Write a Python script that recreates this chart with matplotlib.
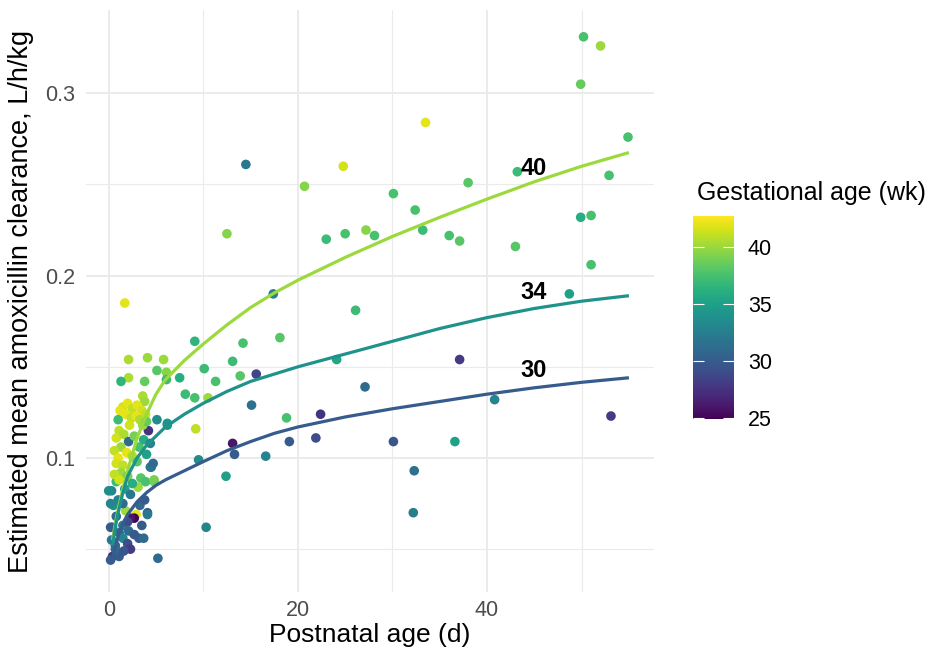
import matplotlib
matplotlib.use("Agg")
import matplotlib.pyplot as plt
from matplotlib.colors import Normalize
from matplotlib.cm import ScalarMappable

plt.rcParams['font.family'] = ['Liberation Sans', 'DejaVu Sans']

# observed individual estimates: postnatal age (d), clearance (L/h/kg), gestational age (wk)
pna = [50.2, 52.0, 49.9, 33.5, 54.9, 43.2, 38.0, 52.9, 49.9, 51.0,
       33.2, 36.0, 37.1, 43.0, 51.0, 48.7, 37.1, 40.8, 53.1, 30.1,
       32.4, 14.5, 24.8, 20.7, 12.5, 23.0, 25.0, 27.2, 28.1, 17.4,
       26.1, 9.1, 18.1, 14.2, 13.1, 10.1, 24.1, 15.6, 13.9, 11.3,
       27.1, 9.1, 10.5, 15.1, 18.8, 22.4, 9.2, 13.1, 19.1, 21.9,
       30.1, 36.6, 13.3, 16.6, 9.5, 32.3, 12.4, 32.2, 10.3, 5.2,
       7.5, 8.1, 6.2, 5.1, 1.7, 2.1, 4.1, 5.8, 5.1, 6.1,
       2.1, 1.3, 3.8, 6.1, 3.6, 3.8, 4.5, 4.8, 4.1, 6.2, 4.2,
       # dense cluster, first days of life
       1.5, 2.0, 2.5, 3.0, 3.5, 1.8, 2.4, 2.9, 3.3, 3.9, 1.2, 2.2, 3.6, 1.0, 4.0,
       1.1, 0.8, 1.6, 2.1, 2.7, 3.2, 3.7, 4.4, 1.3, 0.6, 1.9, 2.5, 1.0, 0.8, 1.5, 3.0, 4.0, 4.4, 4.7,
       0.3, 0.8, 3.1, 3.4, 3.9, 4.8, 1.3, 2.0, 2.5, 1.7, 2.3, 0.6, 1.1,
       0.5, 1.8, 2.9, 2.7, 2.3, 4.1, 1.0, 1.5, 3.3, 3.8, 0.4, 1.5, 0.8, 3.5, 2.0,
       1.1, 2.1, 3.2, 3.7, 1.5, 0.7, 2.0, 2.3, 0.4, 1.1, 0.7, 0.3, 2.7, 1.6, 0.2, 0.0, 0.2, 0.2]
cl = [0.331, 0.326, 0.305, 0.284, 0.276, 0.257, 0.251, 0.255, 0.232, 0.233,
      0.225, 0.222, 0.219, 0.216, 0.206, 0.190, 0.154, 0.132, 0.123, 0.245,
      0.236, 0.261, 0.260, 0.249, 0.223, 0.220, 0.223, 0.225, 0.222, 0.190,
      0.181, 0.164, 0.166, 0.163, 0.153, 0.149, 0.154, 0.146, 0.145, 0.142,
      0.139, 0.133, 0.133, 0.129, 0.122, 0.124, 0.116, 0.108, 0.109, 0.111,
      0.109, 0.109, 0.102, 0.101, 0.099, 0.093, 0.090, 0.070, 0.062, 0.045,
      0.144, 0.135, 0.119, 0.121, 0.185, 0.154, 0.155, 0.154, 0.148, 0.147,
      0.144, 0.142, 0.142, 0.143, 0.134, 0.131, 0.095, 0.087, 0.070, 0.118, 0.115,
      0.128, 0.130, 0.127, 0.129, 0.126, 0.124, 0.122, 0.123, 0.121, 0.124, 0.126, 0.118, 0.118, 0.121, 0.120,
      0.115, 0.111, 0.113, 0.109, 0.112, 0.106, 0.110, 0.108, 0.106, 0.104, 0.103, 0.101, 0.100, 0.097, 0.096, 0.098, 0.102, 0.095, 0.097,
      0.082, 0.087, 0.084, 0.089, 0.087, 0.088, 0.092, 0.090, 0.086, 0.083, 0.080, 0.091, 0.088,
      0.074, 0.071, 0.069, 0.067, 0.067, 0.069, 0.077, 0.075, 0.074, 0.077, 0.062, 0.063, 0.068, 0.063, 0.065,
      0.059, 0.060, 0.056, 0.056, 0.056, 0.052, 0.053, 0.050, 0.046, 0.046, 0.050, 0.055, 0.058, 0.049, 0.044, 0.082, 0.075, 0.062]
ga = [37.5, 40, 38.5, 42, 37.5, 37, 38, 37.5, 36, 37.5,
      37, 37.5, 38, 38, 37.5, 35, 28, 33, 28, 37.5,
      37.5, 32, 41.5, 39.5, 39.5, 37, 37.5, 39.5, 37.5, 32.5,
      37, 36.5, 38, 37.5, 37, 37, 35.5, 28.5, 38, 37.5,
      31, 37.5, 40, 31.5, 37.5, 27.5, 41, 26, 30, 29,
      29.5, 35, 30, 33, 33.5, 31.5, 35, 32.5, 33, 31,
      36, 37, 34.5, 33.5, 42, 40.5, 40, 40, 38, 39.5,
      40.5, 36.5, 38.5, 37, 40.5, 40, 31, 39, 30, 34, 27.5,
      41.5, 42, 41, 42, 41.5, 42, 41, 42, 40.5, 41, 42, 41.5, 40, 37, 38.5,
      41, 41.5, 40.5, 31, 39, 37.5, 36, 33, 40, 41, 42, 40.5, 42, 41.5, 41, 38, 35, 32, 31,
      33, 37, 40, 38, 37.5, 39, 40, 39, 36, 35, 32, 41, 41.5,
      34, 40, 42, 25, 26, 32, 33, 31, 31, 30, 30, 32, 31, 30, 29,
      31, 31, 30, 31, 33, 31, 29, 28, 28, 30, 31, 32, 30, 29.5, 30, 33.5, 33, 30]

# model-predicted typical clearance for three gestational ages
curve_pna = [0.4, 0.7, 1, 1.5, 2, 3, 4, 5, 6, 8, 10, 12.5, 15, 17.5, 20, 25, 30, 35, 40, 45, 50, 55]
curve_cl_40 = [0.055, 0.064, 0.072, 0.083, 0.093, 0.111, 0.124, 0.135, 0.143, 0.1535, 0.1625,
               0.173, 0.1825, 0.1905, 0.1975, 0.210, 0.2215, 0.232, 0.242, 0.2515, 0.260, 0.2675]
curve_cl_34 = [0.052, 0.062, 0.070, 0.081, 0.090, 0.100, 0.107, 0.112, 0.117, 0.124, 0.130,
               0.1365, 0.142, 0.146, 0.150, 0.157, 0.164, 0.171, 0.177, 0.182, 0.186, 0.189]
curve_cl_30 = [0.045, 0.051, 0.057, 0.064, 0.069, 0.076, 0.081, 0.085, 0.088, 0.093, 0.098,
               0.104, 0.109, 0.1135, 0.117, 0.1225, 0.127, 0.131, 0.135, 0.1385, 0.1415, 0.144]
curve_ga = [40, 34, 30]
label_pna = 44.9
label_cl = [0.259, 0.191, 0.148]

norm = Normalize(vmin=24.9, vmax=42.7)
cmap = plt.get_cmap("viridis")
grid_col = "#EBEBEB"
tick_col = "#4D4D4D"

fig = plt.figure(figsize=(9.36, 6.52), dpi=100)
ax = fig.add_axes([86/936, 1-592/652, (654-86)/936, (592-10)/652])

ax.scatter(pna, cl, c=ga, cmap=cmap, norm=norm, s=48, linewidths=0, zorder=3)
for g, ys in zip(curve_ga, [curve_cl_40, curve_cl_34, curve_cl_30]):
    ax.plot(curve_pna, ys, color=cmap(norm(g)), lw=2.3, zorder=4,
            solid_capstyle="butt", solid_joinstyle="round")
for g, yl in zip(curve_ga, label_cl):
    ax.text(label_pna, yl, str(g), ha="center", va="center", fontsize=17,
            fontweight="bold", color="black", zorder=5)

ax.set_xlim(-2.4, 57.65)
ax.set_ylim(0.0265, 0.3457)
ax.set_xticks([0, 20, 40])
ax.set_xticks([10, 30, 50], minor=True)
ax.set_yticks([0.1, 0.2, 0.3])
ax.set_yticklabels(["0.1", "0.2", "0.3"])
ax.set_yticks([0.05, 0.15, 0.25], minor=True)
ax.grid(True, which="major", color=grid_col, lw=1.4, zorder=0)
ax.grid(True, which="minor", color=grid_col, lw=0.8, zorder=0)
ax.set_axisbelow(True)
for s in ax.spines.values():
    s.set_visible(False)
ax.tick_params(which="both", length=0, labelsize=15.5, labelcolor=tick_col)
ax.tick_params(axis="x", pad=6)
ax.tick_params(axis="y", pad=8)
ax.set_xlabel("Postnatal age (d)", fontsize=19, labelpad=1)
ax.set_ylabel("Estimated mean amoxicillin clearance, L/h/kg", fontsize=19.5, labelpad=8)

# colour bar legend
cax = fig.add_axes([693/936, 1-419/652, 41/936, 203/652])
cb = fig.colorbar(ScalarMappable(norm=norm, cmap=cmap), cax=cax, ticks=[25, 30, 35, 40])
cb.outline.set_visible(False)
cax.tick_params(which="both", left=True, right=True, direction="in", length=8,
                width=0.8, color="white", labelsize=15.5, labelcolor="black", pad=10)
fig.text(697/936, 1-193/652, "Gestational age (wk)", fontsize=18, ha="left", va="center")

fig.savefig("out.png", dpi=100, facecolor="white")
